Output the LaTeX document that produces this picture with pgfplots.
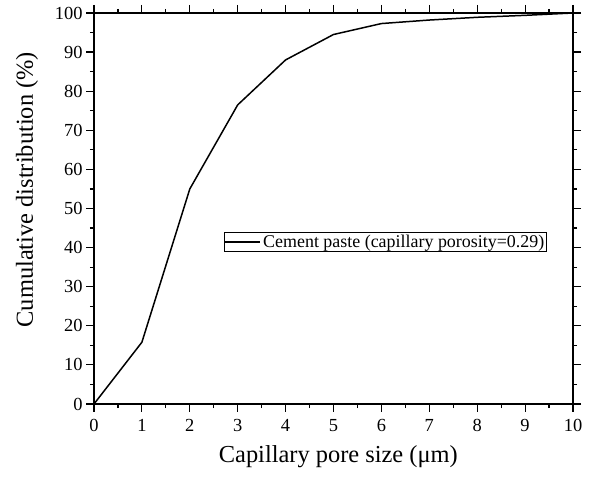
\documentclass[border=0pt]{standalone}
\usepackage{fontspec}
\setmainfont{Liberation Serif}
\usepackage{pgfplots}
\pgfplotsset{compat=1.18}
\begin{document}
\begin{tikzpicture}
\begin{axis}[
  scale only axis,
  width=479bp, height=391bp,
  xmin=0, xmax=10, ymin=0, ymax=100,
  xtick={0,1,...,10}, ytick={0,10,...,100},
  minor x tick num=1, minor y tick num=1,
  tick align=outside,
  major tick length=8bp, minor tick length=4bp,
  axis line style={line width=1.6pt},
  every tick/.style={black, line width=1.2pt},
  /pgf/number format/assume math mode=true,
  tick label style={font=\fontsize{18.5}{18.5}\selectfont},
  xticklabel style={yshift=-4bp},
  label style={font=\fontsize{24.5}{24.5}\selectfont},
  xlabel={Capillary pore size (μm)},
  ylabel={Cumulative distribution (\%)},
  xlabel style={at={(axis description cs:0.51,-0.135)}, anchor=center},
  ylabel style={at={(axis description cs:-0.14,0.548)}, anchor=center},
  legend style={at={(axis cs:6.085,41.4)}, anchor=center,
    font=\fontsize{18}{18}\selectfont, draw=black, line width=1pt,
    inner sep=0.6pt, row sep=0pt},
  legend cell align=left,
  legend image code/.code={\draw[#1] (0bp,0bp) -- (35bp,0bp);},
]
\addplot[black, line width=1.5pt] coordinates {
  (0,0) (1,15.8) (2,55) (3,76.5) (4,88) (5,94.5)
  (6,97.3) (7,98.2) (8,98.9) (9,99.4) (10,100)
};
\addlegendentry{Cement paste (capillary porosity=0.29)}
\end{axis}
% page frame: fixed margins around the plot area
\pgfresetboundingbox
\path ([shift={(-94bp,-75bp)}]current axis.south west)
  rectangle ([shift={(19bp,13bp)}]current axis.north east);
\end{tikzpicture}
\end{document}
